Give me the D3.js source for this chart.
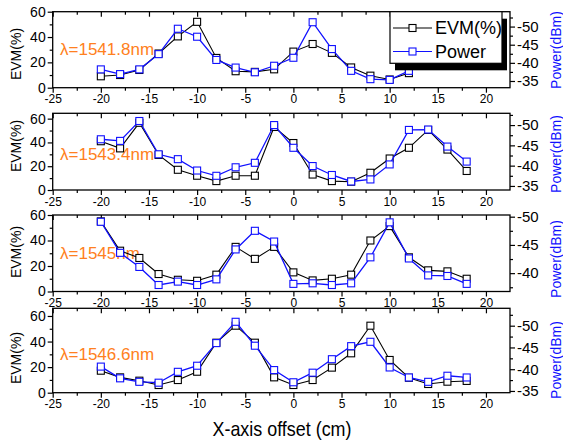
<!DOCTYPE html>
<html><head><meta charset="utf-8">
<script src="https://cdn.jsdelivr.net/npm/d3@7"></script>
<style>
body{margin:0;background:#fff}
svg{display:block;font-family:"Liberation Sans",Arial,sans-serif}
</style>
</head><body>
<svg id="c" width="563" height="442"></svg>
<script>
// ---------------- DATA ----------------
const offsets = [-20,-18,-16,-14,-12,-10,-8,-6,-4,-2,0,2,4,6,8,10,12,14,16,18];
const xTickValues = [-25,-20,-15,-10,-5,0,5,10,15,20];
const xMinorTicks = [-22.5,-17.5,-12.5,-7.5,-2.5,2.5,7.5,12.5,17.5];
const wavelengths = ["λ=1541.8nm","λ=1543.4nm","λ=1545nm","λ=1546.6nm"];
const seriesNames = ["EVM(%)","Power"];
const evmTicks = [0,20,40,60];
const evmMinor = [10,30,50];
const powerTicks = [[-50,-45,-40,-35],[-50,-45,-40,-35],[-50,-45,-40],[-50,-45,-40,-35]];
const powerMinor = [[-52.5,-47.5,-42.5,-37.5],[-52.5,-47.5,-42.5,-37.5],[-47.5,-42.5,-37.5],[-52.5,-47.5,-42.5,-37.5]];

const evm1 = [9,10,14,27,40.5,52,23.5,13,12.5,14.5,28.5,34.5,27.5,16,9.5,6.5,11.5,30,22,18];
const pow1 = [-38.2,-36.9,-38.2,-42.4,-49.4,-47.2,-40.8,-38.7,-37.4,-39.2,-41.4,-51.2,-43.8,-37.8,-35.5,-35.3,-37.8,-43,-41.5,-40];
const evm2 = [41,35,56.5,29.5,17,12,7.5,12,12,53,39.5,13,7.5,7,14.5,26.5,35.5,50.5,34,16];
const pow2 = [-46.5,-46.1,-51,-42.8,-41.6,-38.8,-37.5,-39.6,-40.7,-50,-44.4,-39.9,-37.7,-36.1,-36.6,-40.3,-48.8,-48.9,-44.7,-41];
const evm3 = [55,32,26.3,13.7,9.2,8.4,13.2,35,25.6,35,15,8.7,10,13.2,40,51.3,26.8,16.6,15.8,10];
const pow3 = [-49.1,-43.6,-41.1,-37.9,-38.5,-37.9,-38.9,-44.2,-47.5,-45.6,-38.1,-38.2,-37.9,-38.2,-42.8,-49,-42.6,-39.6,-39.5,-38.1];
const evm4 = [17.2,12,9.4,6,9.9,16.4,39.1,52.4,39.1,12,6,9.9,19.6,30.8,52.4,25.6,11.7,6.8,8.6,9.2];
const pow4 = [-40.6,-37.9,-37.1,-36.9,-39.4,-40.8,-46,-50.9,-45.4,-39.8,-37,-39.2,-42.3,-45.3,-46.3,-40.4,-38.1,-37.1,-38.5,-38.1];

const evmSeries = [evm1,evm2,evm3,evm4];
const powSeries = [pow1,pow2,pow3,pow4];

// ---------------- LAYOUT ----------------
const L = 52.7, R = 510;
const panels = [
  {top:11.7,  bottom:87.7,  evmDom:[0,60],   powDom:[-33.15,-54.1], evmLab:54,  powLab:50},
  {top:113.3, bottom:190,   evmDom:[0,64.5], powDom:[-34,-52.9],    evmLab:146, powLab:154},
  {top:215,   bottom:291.5, evmDom:[0,60],   powDom:[-36.75,-50.3], evmLab:252, powLab:259},
  {top:308.3, bottom:392.7, evmDom:[0,66],   powDom:[-34.6,-54],    evmLab:358, powLab:360}
];
const BLACK = "#000", BLUE = "#1010ff", ORANGE = "#ff8020";

const svg = d3.select("#c");
const x = d3.scaleLinear().domain([-25,22.5]).range([L,R]);

function styleAxis(g, fs){
  g.select(".domain").remove();
  g.selectAll("line").attr("stroke","#000").attr("stroke-width",1.2);
  g.selectAll("text").attr("fill","#000").style("font-size",fs+"px").style("font-family","'Liberation Sans',Arial,sans-serif");
}

panels.forEach((p,i)=>{
  const yE = d3.scaleLinear().domain(p.evmDom).range([p.bottom,p.top]);
  const yP = d3.scaleLinear().domain(p.powDom).range([p.bottom,p.top]);
  const g = svg.append("g");

  // bottom axis
  g.append("g").attr("transform",`translate(0,${p.bottom})`)
    .call(d3.axisBottom(x).tickValues(xTickValues).tickSize(5).tickPadding(2).tickFormat(d3.format("d")))
    .call(a=>styleAxis(a,12));
  g.append("g").attr("transform",`translate(0,${p.bottom})`)
    .call(d3.axisBottom(x).tickValues(xMinorTicks).tickSize(3).tickFormat(""))
    .call(a=>styleAxis(a,12));
  // top axis (inward ticks)
  g.append("g").attr("transform",`translate(0,${p.top})`)
    .call(d3.axisTop(x).tickValues(xTickValues).tickSize(-5).tickFormat(""))
    .call(a=>styleAxis(a,12));
  g.append("g").attr("transform",`translate(0,${p.top})`)
    .call(d3.axisTop(x).tickValues(xMinorTicks).tickSize(-3).tickFormat(""))
    .call(a=>styleAxis(a,12));
  // left axis
  g.append("g").attr("transform",`translate(${L},0)`)
    .call(d3.axisLeft(yE).tickValues(evmTicks).tickSize(5).tickPadding(2))
    .call(a=>styleAxis(a,14));
  g.append("g").attr("transform",`translate(${L},0)`)
    .call(d3.axisLeft(yE).tickValues(evmMinor).tickSize(3).tickFormat(""))
    .call(a=>styleAxis(a,14));
  // right axis
  g.append("g").attr("transform",`translate(${R},0)`)
    .call(d3.axisRight(yP).tickValues(powerTicks[i]).tickSize(5).tickPadding(2).tickFormat(d3.format("d")))
    .call(a=>styleAxis(a,15));
  g.append("g").attr("transform",`translate(${R},0)`)
    .call(d3.axisRight(yP).tickValues(powerMinor[i]).tickSize(3).tickFormat(""))
    .call(a=>styleAxis(a,15));
  // replace unicode minus with hyphen for look
  g.selectAll("text").text(function(){return d3.select(this).text().replace("−","-");});

  // frame
  g.append("rect").attr("x",L).attr("y",p.top).attr("width",R-L).attr("height",p.bottom-p.top)
    .attr("fill","none").attr("stroke","#000").attr("stroke-width",1.3);

  // axis titles
  g.append("text").attr("transform",`translate(16,${p.evmLab}) rotate(-90)`)
    .attr("text-anchor","middle").attr("dominant-baseline","central")
    .style("font-size","14px").attr("fill","#000").text("EVM(%)");
  g.append("text").attr("transform",`translate(556,${p.powLab}) rotate(-90)`)
    .attr("text-anchor","middle").attr("dominant-baseline","central")
    .style("font-size","14px").attr("fill",BLUE).text("Power(dBm)");

  // wavelength label
  g.append("text").attr("x",60).attr("y",yE(30)).attr("dominant-baseline","central")
    .style("font-size","17px").attr("fill",ORANGE).text(wavelengths[i]);

  const evmData = offsets.map((o,k)=>({x:o,v:evmSeries[i][k]}));
  const powData = offsets.map((o,k)=>({x:o,v:powSeries[i][k]}));

  const drawSeries = (data, y, color, sw)=>{
    g.append("path").datum(data)
      .attr("d", d3.line().x(d=>x(d.x)).y(d=>y(d.v)))
      .attr("fill","none").attr("stroke",color).attr("stroke-width",sw);
    g.selectAll(null).data(data).enter().append("rect")
      .attr("x",d=>x(d.x)-3.5).attr("y",d=>y(d.v)-3.5)
      .attr("width",7).attr("height",7)
      .attr("fill","#fff").attr("stroke",color).attr("stroke-width",1.1);
  };
  drawSeries(evmData, yE, BLACK, 1.1);
  drawSeries(powData, yP, BLUE, 1.3);
});

// legend in panel 1
const lg = svg.append("g");
lg.append("rect").attr("x",395).attr("y",18.7).attr("width",112).attr("height",51.6).attr("fill","#000");
lg.append("rect").attr("x",390).attr("y",11.7).attr("width",112).attr("height",51.6)
  .attr("fill","#fff").attr("stroke","#000").attr("stroke-width",1.2);
[[seriesNames[0],BLACK,28],[seriesNames[1],BLUE,51.5]].forEach(([name,col,cy])=>{
  lg.append("line").attr("x1",393).attr("x2",432).attr("y1",cy).attr("y2",cy).attr("stroke",col).attr("stroke-width",1.2);
  lg.append("rect").attr("x",409).attr("y",cy-3.5).attr("width",7).attr("height",7)
    .attr("fill","#fff").attr("stroke",col).attr("stroke-width",1.1);
  lg.append("text").attr("x",435).attr("y",cy).attr("dominant-baseline","central")
    .style("font-size","18px").attr("fill","#000").text(name);
});

// x-axis title
svg.append("text").attr("x",282).attr("y",436).attr("text-anchor","middle")
  .style("font-size","21px").attr("textLength",139).attr("lengthAdjust","spacingAndGlyphs")
  .attr("fill","#000").text("X-axis offset (cm)");
</script>
</body></html>
